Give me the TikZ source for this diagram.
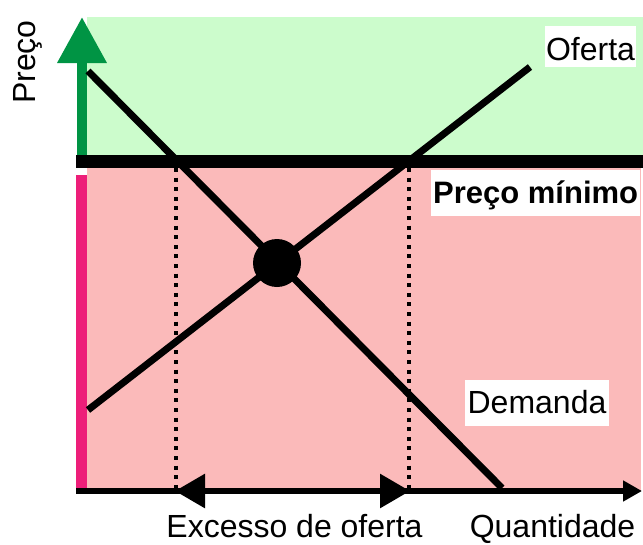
\documentclass[tikz,border=0pt]{standalone}
\usepackage{fontspec}
\setmainfont{Liberation Sans}
\usetikzlibrary{arrows.meta, calc}

\definecolor{upper}{RGB}{204,252,204}
\definecolor{lower}{RGB}{251,186,186}
\definecolor{axisgreen}{RGB}{0,148,68}
\definecolor{barpink}{RGB}{237,30,121}

\begin{document}
\begin{tikzpicture}[x=1pt, y=-1pt,
    curve/.style={line width=7pt},
    drop/.style={line width=4pt, dash pattern=on 4pt off 5.6pt},
    label/.style={fill=white, inner xsep=3pt, inner ysep=0pt, text height=33pt, text depth=13pt,
                  anchor=base, font=\fontsize{32}{38}\selectfont},
    plain/.style={anchor=base, inner sep=0pt, font=\fontsize{32}{38}\selectfont}]
    \useasboundingbox (0,0) rectangle (643,544);

    %% regions
    \fill[upper] (87,17) rectangle (643,155);
    \fill[lower] (87,168) rectangle (641,491);

    %% axes
    \coordinate (o) at (76,491);
    \coordinate (qend) at (642,491);
    \coordinate (pbot) at (82,155);
    \coordinate (ptop) at (82,17);
    \draw[axisgreen, line width=10pt, -{Triangle[length=46pt, width=47pt]}] (pbot) -- (ptop);
    \fill[barpink] (76,175) rectangle (87,488);
    \draw[line width=6pt, -{Triangle[length=19pt, width=20pt]}] (o) -- (qend);

    %% curves
    \coordinate (d0) at (88,71);
    \coordinate (d1) at (502,488);
    \coordinate (s0) at (88,410);
    \coordinate (s1) at (530,67);
    \draw[curve] (d0) -- (d1);
    \draw[curve] (s0) -- (s1);
    \node[circle, fill, inner sep=0pt, minimum size=48pt] (eq) at (277,263) {};

    %% floor
    \coordinate (f0) at (76,161);
    \coordinate (f1) at (643,161);
    \draw[line width=13pt] (f0) -- (f1);

    %% excess
    \coordinate (qd) at (176,168);
    \coordinate (qs) at (409,168);
    \draw[drop] (qd) -- (qd |- o);
    \draw[drop] (qs) -- (qs |- o);
    \draw[line width=6pt, {Triangle[length=30pt, width=33pt]}-{Triangle[length=30pt, width=33pt]}]
        ($(qd |- o) + (-1,0)$) -- ($(qs |- o) + (1,0)$);

    %% texts
    \node[plain, rotate=90] (price) at (35,62) {Preço};
    \node[label, inner xsep=1pt, text height=34pt, text depth=7pt] (supply) at (590.5,60) {Oferta};
    \node[label, anchor=base west, inner xsep=2pt, font=\fontsize{31}{37}\selectfont\bfseries] (floor) at (431,203) {Preço mínimo};
    \node[label] (demand) at (537,413) {Demanda};
    \node[plain] (excess) at (294.5,537) {Excesso de oferta};
    \node[plain] (qty) at (552.5,537) {Quantidade};
\end{tikzpicture}
\end{document}
